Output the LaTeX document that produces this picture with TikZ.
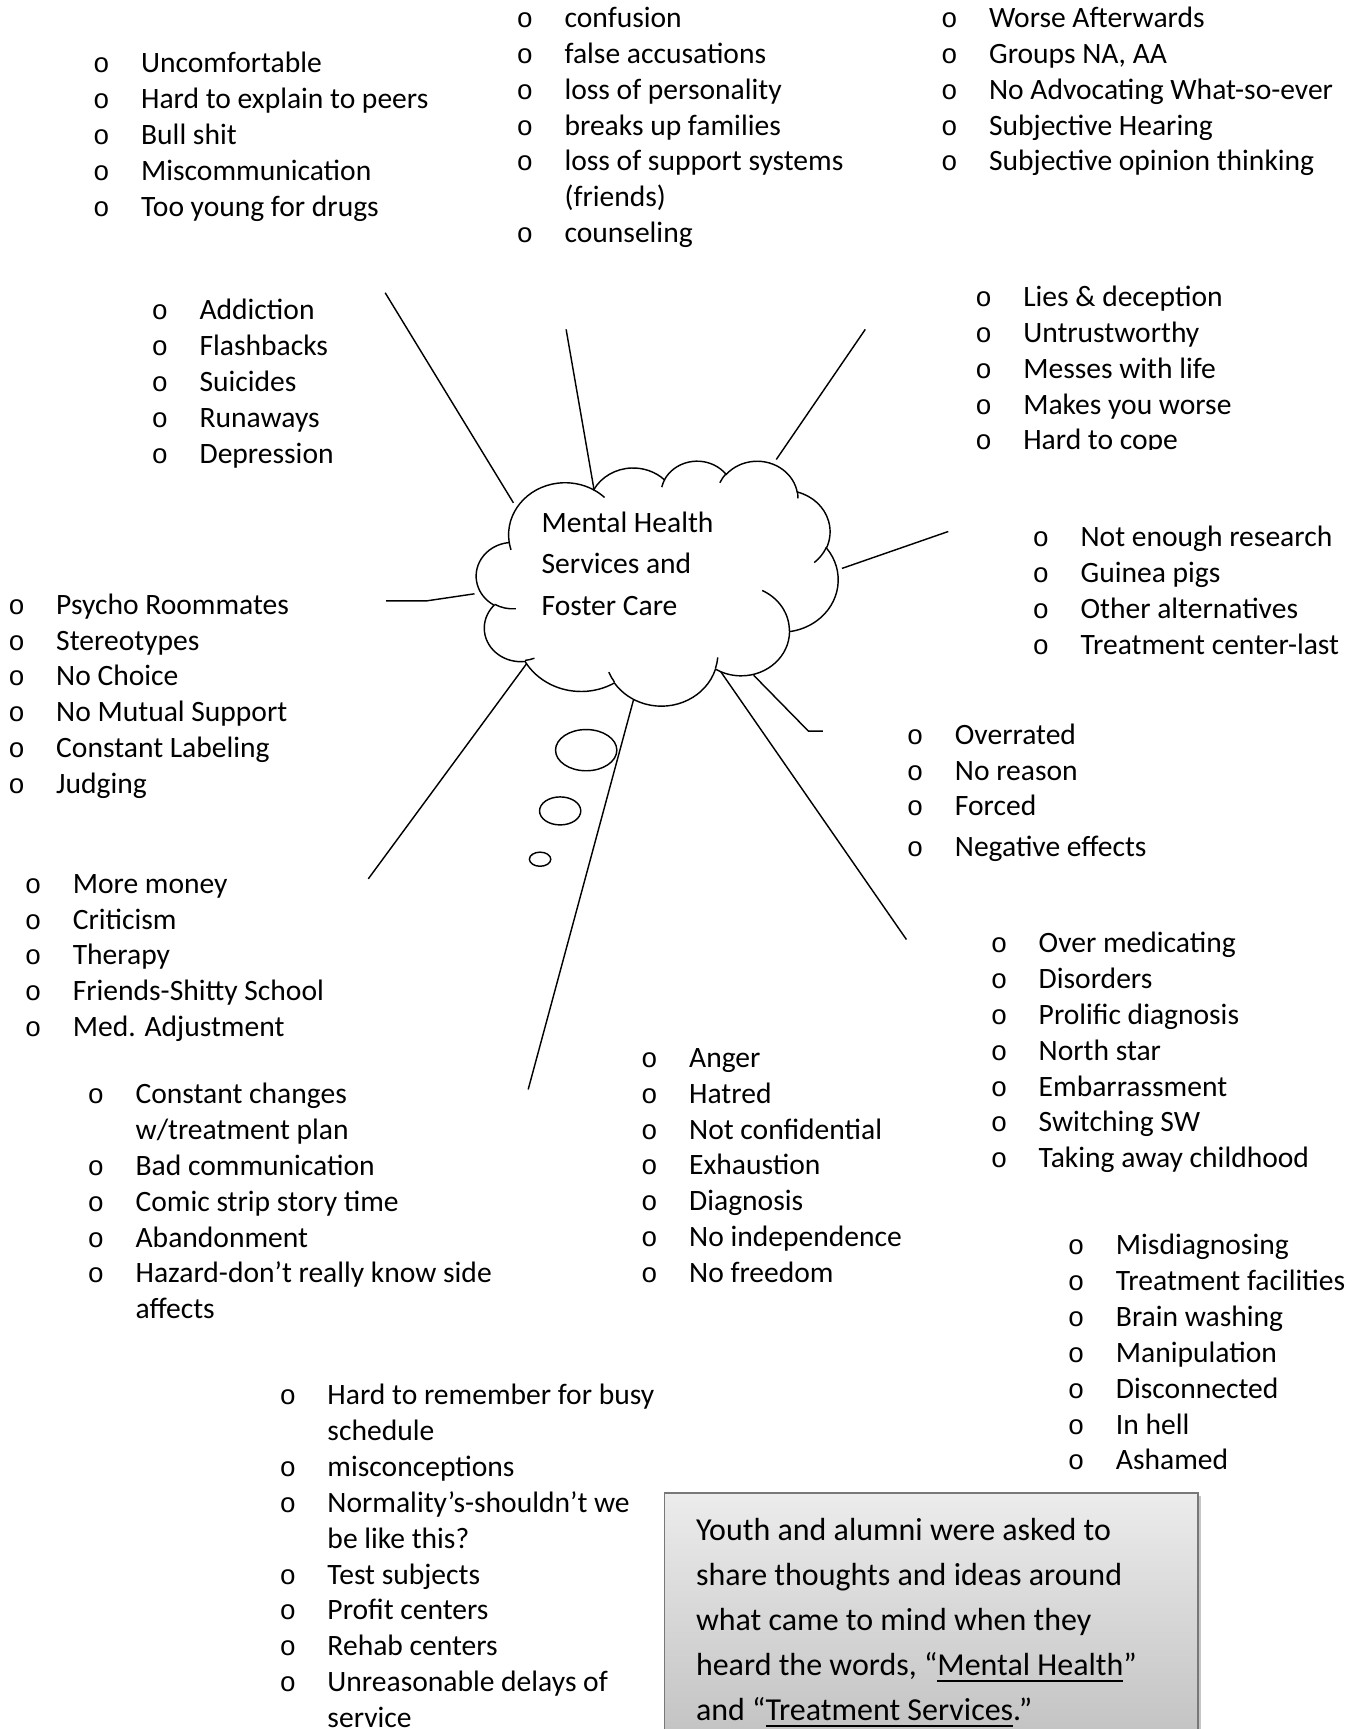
\documentclass[tikz,border=0pt]{standalone}
\usepackage{fontspec}
\setmainfont{Carlito}
\newfontfamily\bltfont{Liberation Mono}
\newcommand\blt{\llap{\makebox[72pt][c]{\bltfont\fontsize{25}{25}\selectfont o}}}
\newcommand\ulx[1]{\begingroup\setbox0\hbox{#1}\rlap{\rule[-6pt]{\wd0}{1.8pt}}\box0\endgroup}
\begin{document}
\begin{tikzpicture}[x=1pt,y=-1pt,
  lst/.style={anchor=base west, inner sep=0pt, outer sep=0pt, font=\fontsize{26.8}{32.5}\selectfont},
  conn/.style={draw, line width=1.3pt, line join=round},
  bubble/.style={draw, line width=1.3pt, fill=white}]
\path[use as bounding box] (0,0) rectangle (1230,1568);
\clip (0,0) rectangle (1230,1568);
\fill[white] (0,0) rectangle (1230,1568);

% ---------- connector end points ----------
\coordinate (a1) at (349.3,265.5); \coordinate (b1) at (465.6,456);
\coordinate (a2) at (513.4,298.7); \coordinate (b2) at (538.8,444.5);
\coordinate (a3) at (784.7,298.7); \coordinate (b3) at (704,416.7);
\coordinate (a4) at (860,482);     \coordinate (b4) at (763.5,515.5);
\coordinate (a5) at (350.1,544.9); \coordinate (m5) at (387,544.9); \coordinate (b5) at (430.3,538.5);
\coordinate (a6) at (334,797);     \coordinate (b6) at (477.7,601.7);
\coordinate (a7) at (479,988);     \coordinate (b7) at (575.1,632.5);
\coordinate (a8) at (822,852);     \coordinate (b8) at (651.6,606.2);
\coordinate (a9) at (746.3,663.1); \coordinate (m9) at (733.2,663.1); \coordinate (b9) at (683.4,612.3);

\draw[conn] (a1) -- (b1);
\draw[conn] (a2) -- (b2);
\draw[conn] (a3) -- (b3);
\draw[conn] (a4) -- (b4);
\draw[conn] (a5) -- (m5) -- (b5);
\draw[conn] (a6) -- (b6);
\draw[conn] (a7) -- (b7);
\draw[conn] (a8) -- (b8);
\draw[conn] (a9) -- (m9) -- (b9);

% ---------- thought bubbles ----------
\draw[bubble] (531.6,680.3) ellipse [x radius=27.8, y radius=18.7];
\draw[bubble] (508,735.4) ellipse [x radius=18.7, y radius=12.7];
\draw[bubble] (489.8,779.2) ellipse [x radius=9.7, y radius=6.4];

% ---------- cloud ----------
\begin{scope}[shift={(432.1,417.5)}, x=0.7591pt, y=-0.5141pt, line width=1.3pt]
\draw[fill=white] (39.00,143.70)
 arc[start angle=-187.746, end angle=-59.637, x radius=67.53, y radius=91.90]
 arc[start angle=-152.025, end angle=-45.44, x radius=53.33, y radius=72.67]
 arc[start angle=-153.48, end angle=-37.34, x radius=43.65, y radius=59.45]
 arc[start angle=-139.69, end angle=-10.21, x radius=48.57, y radius=65.95]
 arc[start angle=-74.77, end angle=23.21, x radius=53.33, y radius=72.73]
 arc[start angle=-37.525, end angle=81.862, x radius=67.75, y radius=92.20]
 arc[start angle=0.4597, end angle=121.98, x radius=57.85, y radius=78.67]
 arc[start angle=16.843, end angle=146.26, x radius=67.52, y radius=92.15]
 arc[start angle=58.98, end angle=150.20, x radius=77.20, y radius=105.43]
 arc[start angle=-276.694, end angle=-136.89, x radius=43.60, y radius=59.18]
 arc[start angle=-239.64, end angle=-95.887, x radius=43.45, y radius=59.45]
 -- cycle;
\draw (46.93,261.77) arc[start angle=85.547, end angle=120.36, x radius=43.45, y radius=59.45];
\draw (69.28,348.99) arc[start angle=68.23, end angle=83.306, x radius=43.60, y radius=59.18];
\draw (164.78,390.90) arc[start angle=146.26, end angle=158.47, x radius=67.52, y radius=92.15];
\draw (288.27,347.51) arc[start angle=4.738, end angle=16.843, x radius=67.52, y radius=92.15];
\draw (341.29,229.54) arc[start angle=-64.03, end angle=0.4597, x radius=57.85, y radius=78.67];
\draw (417.98,153.54) arc[start angle=23.21, end angle=49.63, x radius=53.33, y radius=72.73];
\draw (383.24,54.26) arc[start angle=-10.21, end angle=0.8232, x radius=48.57, y radius=65.95];
\draw (290.78,39.52) arc[start angle=-156.29, end angle=-139.69, x radius=48.57, y radius=65.95];
\draw (221.41,47.20) arc[start angle=-167.73, end angle=-153.48, x radius=43.65, y radius=59.45];
\draw (140.00,51.92) arc[start angle=-59.637, end angle=-45.72, x radius=67.53, y radius=91.90];
\draw (41.27,157.89) arc[start angle=163.19, end angle=172.254, x radius=67.53, y radius=91.90];
\end{scope}

\node[anchor=base west, inner sep=0pt, font=\fontsize{26.8}{37.5}\selectfont] (title) at (491,483)
 {\begin{tabular}[t]{@{}l@{}}Mental Health\\ Services and\\ Foster Care\end{tabular}};

% ---------- lists ----------
\node[lst] (g1) at (128,66) {\begin{tabular}[t]{@{}l@{}}
\blt Uncomfortable\\ \blt Hard to explain to peers\\ \blt Bull shit\\ \blt Miscommunication\\ \blt Too young for drugs\end{tabular}};

\node[lst] (g2) at (512,25) {\begin{tabular}[t]{@{}l@{}}
\blt confusion\\ \blt false accusations\\ \blt loss of personality\\ \blt breaks up families\\ \blt loss of support systems\\ (friends)\\ \blt counseling\end{tabular}};

\node[lst] (g3) at (897,25) {\begin{tabular}[t]{@{}l@{}}
\blt Worse Afterwards\\ \blt Groups NA, AA\\ \blt No Advocating What-so-ever\\ \blt Subjective Hearing\\ \blt Subjective opinion thinking\end{tabular}};

\node[lst] (g4) at (181,290) {\begin{tabular}[t]{@{}l@{}}
\blt Addiction\\ \blt Flashbacks\\ \blt Suicides\\ \blt Runaways\\ \blt Depression\end{tabular}};

\begin{scope}
\clip (840,240) rectangle (1230,407.5);
\node[lst] (g5) at (928,278) {\begin{tabular}[t]{@{}l@{}}
\blt Lies \& deception\\ \blt Untrustworthy\\ \blt Messes with life\\ \blt Makes you worse\\ \blt Hard to cope\end{tabular}};
\end{scope}

\node[lst] (g6) at (980,496) {\begin{tabular}[t]{@{}l@{}}
\blt Not enough research\\ \blt Guinea pigs\\ \blt Other alternatives\\ \blt Treatment center-last\end{tabular}};

\node[lst] (g7) at (51,557) {\begin{tabular}[t]{@{}l@{}}
\blt Psycho Roommates\\ \blt Stereotypes\\ \blt No Choice\\ \blt No Mutual Support\\ \blt Constant Labeling\\ \blt Judging\end{tabular}};

\node[lst] (g8) at (866,675) {\begin{tabular}[t]{@{}l@{}}
\blt Overrated\\ \blt No reason\\ \blt Forced\\[4.5pt] \blt Negative effects\end{tabular}};

\node[lst] (g9) at (66,810) {\begin{tabular}[t]{@{}l@{}}
\blt More money\\ \blt Criticism\\ \blt Therapy\\ \blt Friends-Shitty School\\ \blt Med. Adjustment\end{tabular}};

\node[lst] (g10) at (942,864) {\begin{tabular}[t]{@{}l@{}}
\blt Over medicating\\ \blt Disorders\\ \blt Prolific diagnosis\\ \blt North star\\ \blt Embarrassment\\ \blt Switching SW\\ \blt Taking away childhood\end{tabular}};

\node[lst] (g11) at (625,968) {\begin{tabular}[t]{@{}l@{}}
\blt Anger\\ \blt Hatred\\ \blt Not confidential\\ \blt Exhaustion\\ \blt Diagnosis\\ \blt No independence\\ \blt No freedom\end{tabular}};

\node[lst] (g12) at (123,1001) {\begin{tabular}[t]{@{}l@{}}
\blt Constant changes\\ w/treatment plan\\ \blt Bad communication\\ \blt Comic strip story time\\ \blt Abandonment\\ \blt Hazard-don’t really know side\\ affects\end{tabular}};

\node[lst] (g13) at (1012,1138) {\begin{tabular}[t]{@{}l@{}}
\blt Misdiagnosing\\ \blt Treatment facilities\\ \blt Brain washing\\ \blt Manipulation\\ \blt Disconnected\\ \blt In hell\\ \blt Ashamed\end{tabular}};

\node[lst] (g14) at (297,1274) {\begin{tabular}[t]{@{}l@{}}
\blt Hard to remember for busy\\ schedule\\ \blt misconceptions\\ \blt Normality’s-shouldn’t we\\ be like this?\\ \blt Test subjects\\ \blt Profit centers\\ \blt Rehab centers\\ \blt Unreasonable delays of\\ service\end{tabular}};

% ---------- note box ----------
\fill[gray!45] (605.6,1356.9) rectangle (1089.3,1600);
\shade[top color={rgb,255:red,236;green,236;blue,236}, bottom color={rgb,255:red,190;green,190;blue,190}]
  (602.6,1353.9) rectangle (1086.3,1600);
\draw[line width=1.4pt, draw={rgb,255:red,120;green,120;blue,120}] (602.6,1353.9) rectangle (1086.3,1600);
\node[anchor=base west, inner sep=0pt, font=\fontsize{29}{40.75}\selectfont] (note) at (631,1397)
 {\begin{tabular}[t]{@{}l@{}}Youth and alumni were asked to\\ share thoughts and ideas around\\ what came to mind when they\\ heard the words, “\ulx{Mental Health}”\\ and “\ulx{Treatment Services}.”\end{tabular}};
\end{tikzpicture}
\end{document}
